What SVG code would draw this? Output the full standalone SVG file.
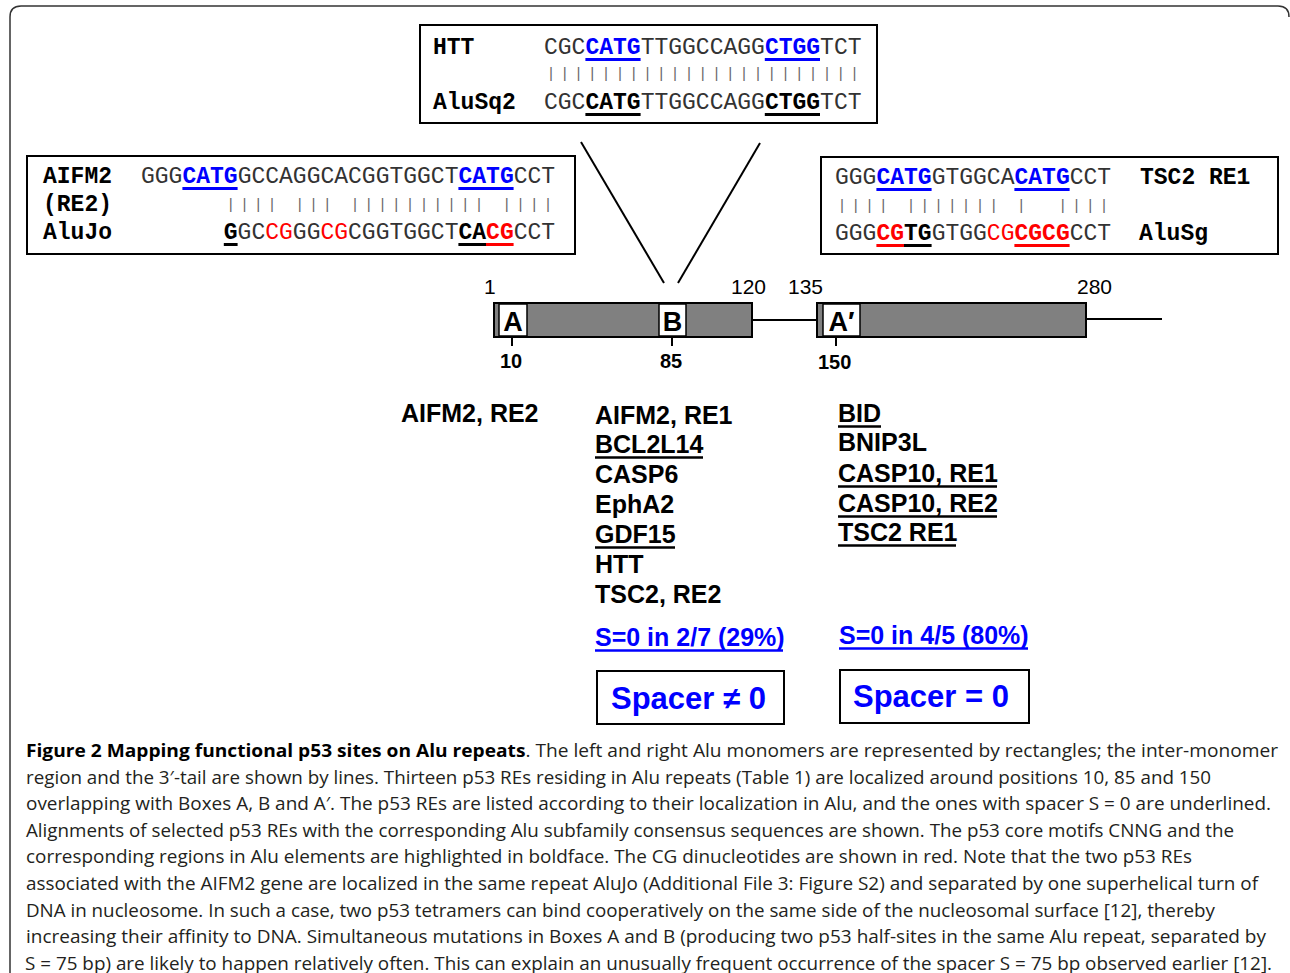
<svg xmlns="http://www.w3.org/2000/svg" width="1290" height="973" viewBox="0 0 1290 973">
<style>
.mono{font-family:"Liberation Mono","Courier New",monospace;font-size:23px;fill:#333}
.lbl{font-family:"Liberation Mono","Courier New",monospace;font-size:23px;font-weight:bold;fill:#000}
.b{font-weight:bold;fill:#000}
.blue{fill:#0000ff;font-weight:bold}
.red{fill:#ff0000}
.bars{font-family:"Liberation Mono","Courier New",monospace;font-size:15px;fill:#666;letter-spacing:4.8px}
.ulb{stroke:#0000ff;stroke-width:3}
.ulk{stroke:#000;stroke-width:3}
.ulr{stroke:#ff0000;stroke-width:3}
.box{fill:#fff;stroke:#000;stroke-width:2}
.gene{font-family:"Liberation Sans",Arial,sans-serif;font-size:25px;font-weight:bold;fill:#000}
.sgene{font-family:"Liberation Sans",Arial,sans-serif;font-size:25px;font-weight:bold;fill:#0000ff}
.ul{stroke:#000;stroke-width:2.5}
.ulbl{stroke:#0000ff;stroke-width:2.5}
.num{font-family:"Liberation Sans",Arial,sans-serif;font-size:21px;fill:#000}
.bnum{font-family:"Liberation Sans",Arial,sans-serif;font-size:20px;font-weight:bold;fill:#000}
.boxl{font-family:"Liberation Sans",Arial,sans-serif;font-size:27px;font-weight:bold;fill:#000;text-anchor:middle}
.cap{font-family:"Open Sans","Noto Sans",sans-serif;font-size:18px;fill:#231f20}
.line{stroke:#000;stroke-width:2;fill:none}
</style>

<path d="M10,973 V17 Q10,6 21,6 H1278 Q1289,6 1289,17" fill="none" stroke="#333" stroke-width="1.5"/>

<g id="connectors">
  <line class="line" x1="581" y1="142" x2="664" y2="283" stroke-width="1.5"/>
  <line class="line" x1="760" y1="143" x2="678" y2="283" stroke-width="1.5"/>
  <line class="line" x1="752" y1="320" x2="817" y2="320"/>
  <line class="line" x1="1086" y1="319" x2="1162" y2="319"/>
  <line class="line" x1="512" y1="337" x2="512" y2="346"/>
  <line class="line" x1="672" y1="337" x2="672" y2="346"/>
  <line class="line" x1="836" y1="337" x2="836" y2="346"/>
</g>

<g id="htt-alignment">
  <rect class="box" x="420" y="25" width="457" height="98"/>
  <text class="lbl" x="433" y="54">HTT</text>
  <text class="lbl" x="433" y="109">AluSq2</text>
  <text class="mono" x="544" y="54">CGC<tspan class="blue">CATG</tspan>TTGGCCAGG<tspan class="blue">CTGG</tspan>TCT</text>
  <text class="bars" x="546.4" y="78" xml:space="preserve">|||||||||||||||||||||||</text>
  <text class="mono" x="544" y="109">CGC<tspan class="b">CATG</tspan>TTGGCCAGG<tspan class="b">CTGG</tspan>TCT</text>
  <line class="ulb" x1="585.4" y1="59.5" x2="640.6" y2="59.5"/>
  <line class="ulb" x1="764.8" y1="59.5" x2="820" y2="59.5"/>
  <line class="ulk" x1="585.4" y1="114.5" x2="640.6" y2="114.5"/>
  <line class="ulk" x1="764.8" y1="114.5" x2="820" y2="114.5"/>
</g>

<g id="aifm2-alignment">
  <rect class="box" x="27" y="156" width="548" height="98"/>
  <text class="lbl" x="43" y="183">AIFM2</text>
  <text class="lbl" x="43" y="211">(RE2)</text>
  <text class="lbl" x="43" y="239">AluJo</text>
  <text class="mono" x="141" y="183">GGG<tspan class="blue">CATG</tspan>GCCAGGCACGGTGGCT<tspan class="blue">CATG</tspan>CCT</text>
  <text class="bars" x="226.2" y="209" xml:space="preserve">|||| ||| |||||||||| ||||</text>
  <text class="mono" x="223.8" y="239"><tspan class="b">G</tspan>GC<tspan class="red">CG</tspan>GG<tspan class="red">CG</tspan>CGGTGGCT<tspan class="b">CA</tspan><tspan class="b red">CG</tspan>CCT</text>
  <line class="ulb" x1="182.4" y1="188.5" x2="237.6" y2="188.5"/>
  <line class="ulb" x1="458.4" y1="188.5" x2="513.6" y2="188.5"/>
  <line class="ulk" x1="223.8" y1="244.5" x2="237.6" y2="244.5"/>
  <line class="ulk" x1="458.4" y1="244.5" x2="486" y2="244.5"/>
  <line class="ulr" x1="486" y1="244.5" x2="513.6" y2="244.5"/>
</g>

<g id="tsc2-alignment">
  <rect class="box" x="821" y="157" width="457" height="97"/>
  <text class="mono" x="835" y="184">GGG<tspan class="blue">CATG</tspan>GTGGCA<tspan class="blue">CATG</tspan>CCT</text>
  <text class="bars" x="837.4" y="210" xml:space="preserve">|||| ||||||| |  ||||</text>
  <text class="mono" x="835" y="240">GGG<tspan class="b red">CG</tspan><tspan class="b">TG</tspan>GTGG<tspan class="red">CG</tspan><tspan class="b red">CGCG</tspan>CCT</text>
  <text class="lbl" x="1140" y="184">TSC2 RE1</text>
  <text class="lbl" x="1139" y="240">AluSg</text>
  <line class="ulb" x1="876.4" y1="189.5" x2="931.6" y2="189.5"/>
  <line class="ulb" x1="1014.4" y1="189.5" x2="1069.6" y2="189.5"/>
  <line class="ulr" x1="876.4" y1="245.5" x2="904" y2="245.5"/>
  <line class="ulk" x1="904" y1="245.5" x2="931.6" y2="245.5"/>
  <line class="ulr" x1="1014.4" y1="245.5" x2="1069.6" y2="245.5"/>
</g>

<g id="alu-left-monomer">
  <rect x="494" y="303" width="258" height="34" fill="#808080" stroke="#000" stroke-width="2"/>
  <rect x="499" y="304" width="28" height="32" fill="#fff" stroke="#000" stroke-width="1.5"/>
  <rect x="659" y="304" width="27" height="32" fill="#fff" stroke="#000" stroke-width="1.5"/>
  <text class="boxl" x="513" y="331">A</text>
  <text class="boxl" x="672.5" y="331">B</text>
  <text class="num" x="484" y="294">1</text>
  <text class="num" x="731" y="294">120</text>
  <text class="bnum" x="500" y="368">10</text>
  <text class="bnum" x="660" y="368">85</text>
</g>

<g id="alu-right-monomer">
  <rect x="817" y="303" width="269" height="34" fill="#808080" stroke="#000" stroke-width="2"/>
  <rect x="823" y="304" width="37" height="32" fill="#fff" stroke="#000" stroke-width="1.5"/>
  <text class="boxl" x="841.5" y="331">A′</text>
  <text class="num" x="788" y="294">135</text>
  <text class="num" x="1077" y="294">280</text>
  <text class="bnum" x="818" y="369">150</text>
</g>

<g id="genes-box-a">
  <text class="gene" x="401" y="422">AIFM2, RE2</text>
</g>

<g id="genes-box-b">
  <text class="gene" x="595" y="424">AIFM2, RE1</text>
  <text class="gene" x="595" y="453">BCL2L14</text>
  <line class="ul" x1="595" y1="457.5" x2="703" y2="457.5"/>
  <text class="gene" x="595" y="483">CASP6</text>
  <text class="gene" x="595" y="513">EphA2</text>
  <text class="gene" x="595" y="543">GDF15</text>
  <line class="ul" x1="595" y1="547.5" x2="675" y2="547.5"/>
  <text class="gene" x="595" y="573">HTT</text>
  <text class="gene" x="595" y="603">TSC2, RE2</text>
  <text class="sgene" x="595" y="646">S=0 in 2/7 (29%)</text>
  <line class="ulbl" x1="595" y1="650.5" x2="783" y2="650.5"/>
</g>

<g id="genes-box-a-prime">
  <text class="gene" x="838" y="422">BID</text>
  <line class="ul" x1="838" y1="426.5" x2="881" y2="426.5"/>
  <text class="gene" x="838" y="451">BNIP3L</text>
  <text class="gene" x="838" y="482">CASP10, RE1</text>
  <line class="ul" x1="838" y1="486.5" x2="997" y2="486.5"/>
  <text class="gene" x="838" y="512">CASP10, RE2</text>
  <line class="ul" x1="838" y1="516.5" x2="997" y2="516.5"/>
  <text class="gene" x="838" y="541">TSC2 RE1</text>
  <line class="ul" x1="838" y1="545.5" x2="956" y2="545.5"/>
  <text class="sgene" x="839" y="644">S=0 in 4/5 (80%)</text>
  <line class="ulbl" x1="839" y1="648.5" x2="1028" y2="648.5"/>
</g>

<g id="spacer-nonzero">
  <rect x="597" y="671" width="187" height="53" fill="#fff" stroke="#000" stroke-width="2"/>
  <text x="611" y="709" font-family="Liberation Sans, Arial, sans-serif" font-size="31" font-weight="bold" fill="#0000ff">Spacer ≠ 0</text>
</g>

<g id="spacer-zero">
  <rect x="840" y="670" width="189" height="53" fill="#fff" stroke="#000" stroke-width="2"/>
  <text x="853" y="707" font-family="Liberation Sans, Arial, sans-serif" font-size="31" font-weight="bold" fill="#0000ff">Spacer = 0</text>
</g>

<g id="caption">
  <text class="cap" x="26" y="757" textLength="1252" lengthAdjust="spacingAndGlyphs"><tspan font-weight="bold" fill="#000">Figure 2 Mapping functional p53 sites on Alu repeats</tspan>. The left and right Alu monomers are represented by rectangles; the inter-monomer</text>
  <text class="cap" x="26" y="783.6" textLength="1185" lengthAdjust="spacingAndGlyphs">region and the 3′-tail are shown by lines. Thirteen p53 REs residing in Alu repeats (Table 1) are localized around positions 10, 85 and 150</text>
  <text class="cap" x="26" y="810.2" textLength="1245" lengthAdjust="spacingAndGlyphs">overlapping with Boxes A, B and A′. The p53 REs are listed according to their localization in Alu, and the ones with spacer S = 0 are underlined.</text>
  <text class="cap" x="26" y="836.8" textLength="1208" lengthAdjust="spacingAndGlyphs">Alignments of selected p53 REs with the corresponding Alu subfamily consensus sequences are shown. The p53 core motifs CNNG and the</text>
  <text class="cap" x="26" y="863.4" textLength="1166" lengthAdjust="spacingAndGlyphs">corresponding regions in Alu elements are highlighted in boldface. The CG dinucleotides are shown in red. Note that the two p53 REs</text>
  <text class="cap" x="26" y="890" textLength="1232" lengthAdjust="spacingAndGlyphs">associated with the AIFM2 gene are localized in the same repeat AluJo (Additional File 3: Figure S2) and separated by one superhelical turn of</text>
  <text class="cap" x="26" y="916.6" textLength="1189" lengthAdjust="spacingAndGlyphs">DNA in nucleosome. In such a case, two p53 tetramers can bind cooperatively on the same side of the nucleosomal surface [12], thereby</text>
  <text class="cap" x="26" y="943.2" textLength="1240" lengthAdjust="spacingAndGlyphs">increasing their affinity to DNA. Simultaneous mutations in Boxes A and B (producing two p53 half-sites in the same Alu repeat, separated by</text>
  <text class="cap" x="25" y="969.8" textLength="1247" lengthAdjust="spacingAndGlyphs">S = 75 bp) are likely to happen relatively often. This can explain an unusually frequent occurrence of the spacer S = 75 bp observed earlier [12].</text>
</g>
</svg>
